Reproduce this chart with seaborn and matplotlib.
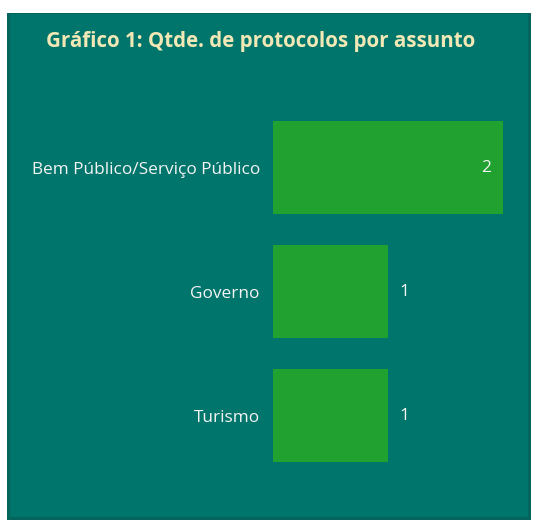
import pandas as pd
import matplotlib
matplotlib.use("Agg")
import matplotlib.pyplot as plt
from matplotlib.patches import Rectangle
import seaborn as sns

# data
assuntos = ["Bem Público/Serviço Público", "Governo", "Turismo"]
qtde = [2, 1, 1]

TEAL = "#00756b"
GREEN = "#21a12f"
TITLE_COLOR = "#f2e8b5"

sns.set_theme(style="white")
plt.rcParams["font.family"] = ["Open Sans", "DejaVu Sans"]

df = pd.DataFrame({"assunto": assuntos, "qtde": qtde})

W, H = 538, 527
fig = plt.figure(figsize=(W / 100, H / 100), dpi=100)
fig.patch.set_facecolor("white")

# teal card with a slight dark edge
fig.patches.append(Rectangle((7 / W, 1 - 520 / H), 524 / W, 507 / H,
                             transform=fig.transFigure, facecolor="#05645c",
                             edgecolor="none", zorder=-2))
fig.patches.append(Rectangle((10 / W, 1 - 517 / H), 518 / W, 503 / H,
                             transform=fig.transFigure, facecolor=TEAL,
                             edgecolor="none", zorder=-1))

ax = fig.add_axes([273 / W, 1 - 477.5 / H, 230 / W, 372 / H])
ax.set_zorder(2)
ax.set_facecolor("none")
sns.barplot(data=df, x="qtde", y="assunto", color=GREEN, saturation=1,
            width=0.75, linewidth=0, ax=ax)
ax.set_xlim(0, 2)
ax.set_ylim(2.5, -0.5)
ax.set_xlabel("")
ax.set_ylabel("")
ax.set_xticks([])
ax.tick_params(axis="y", length=0, pad=9.5, labelsize=12.4, labelcolor="#f4f4f4")
sns.despine(ax=ax, left=True, bottom=True)

for i, v in enumerate(qtde):
    if v == max(qtde):
        ax.text(v - 0.1, i, str(v), ha="right", va="center",
                color="#f4f4f4", fontsize=12.4)
    else:
        ax.text(v + 0.1, i, str(v), ha="left", va="center",
                color="#f4f4f4", fontsize=12.4)

fig.text(261 / W, 1 - 41 / H, "Gráfico 1: Qtde. de protocolos por assunto",
         ha="center", va="center", color=TITLE_COLOR, fontsize=14.8,
         fontweight="bold", zorder=3)

fig.savefig("out.png", dpi=100)
